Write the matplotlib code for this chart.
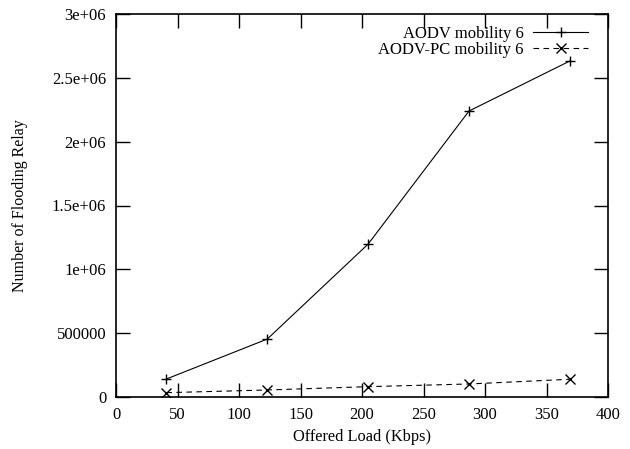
import matplotlib
matplotlib.use("Agg")
import matplotlib.pyplot as plt

load = [41, 123, 205, 287, 369]
aodv = [141000, 454000, 1198000, 2240000, 2632000]
aodv_pc = [34000, 55000, 81000, 102000, 139000]
xticks = [0, 50, 100, 150, 200, 250, 300, 350, 400]
yticks = [0, 500000, 1000000, 1500000, 2000000, 2500000, 3000000]
ytick_labels = ["0", "500000", "1e+06", "1.5e+06", "2e+06", "2.5e+06", "3e+06"]

plt.rcParams['font.family'] = ['Liberation Serif', 'DejaVu Serif']
plt.rcParams['font.size'] = 12

fig = plt.figure(figsize=(6.30, 4.49), dpi=100)
ax = fig.add_axes([116/630, 1 - 397/449, (608-116)/630, (397-14)/449])

ax.plot(load, aodv, color='black', linewidth=0.8, marker='+', markersize=7.5,
        markeredgewidth=1.0, label='AODV mobility 6')
ax.plot(load, aodv_pc, color='black', linewidth=0.8, linestyle=(0, (5, 4)), marker='x',
        markersize=7.5, markeredgewidth=1.0, label='AODV-PC mobility 6')

ax.set_xlim(0, 400)
ax.set_ylim(0, 3000000)
ax.set_xticks(xticks)
ax.set_yticks(yticks)
ax.set_yticklabels(ytick_labels)
ax.tick_params(direction='in', length=10, width=1.0, top=True, right=True, pad=7)
for s in ax.spines.values():
    s.set_linewidth(1.2)

ax.set_xlabel('Offered Load (Kbps)', fontsize=11.8)
ax.xaxis.set_label_coords(0.5, -(429 - 397) / 383, transform=ax.transAxes)
ax.set_ylabel('Number of Flooding Relay', fontsize=11.5)
ax.yaxis.set_label_coords(-(116 - 28) / 492, 0.5, transform=ax.transAxes)

ax.legend(loc='upper right', frameon=False, markerfirst=False, handlelength=3.3,
          borderaxespad=0.0, borderpad=0.3, labelspacing=0.0, handletextpad=0.55,
          bbox_to_anchor=(1 - 15/492, 1 - 7/383))

fig.savefig('out.png', dpi=100)
